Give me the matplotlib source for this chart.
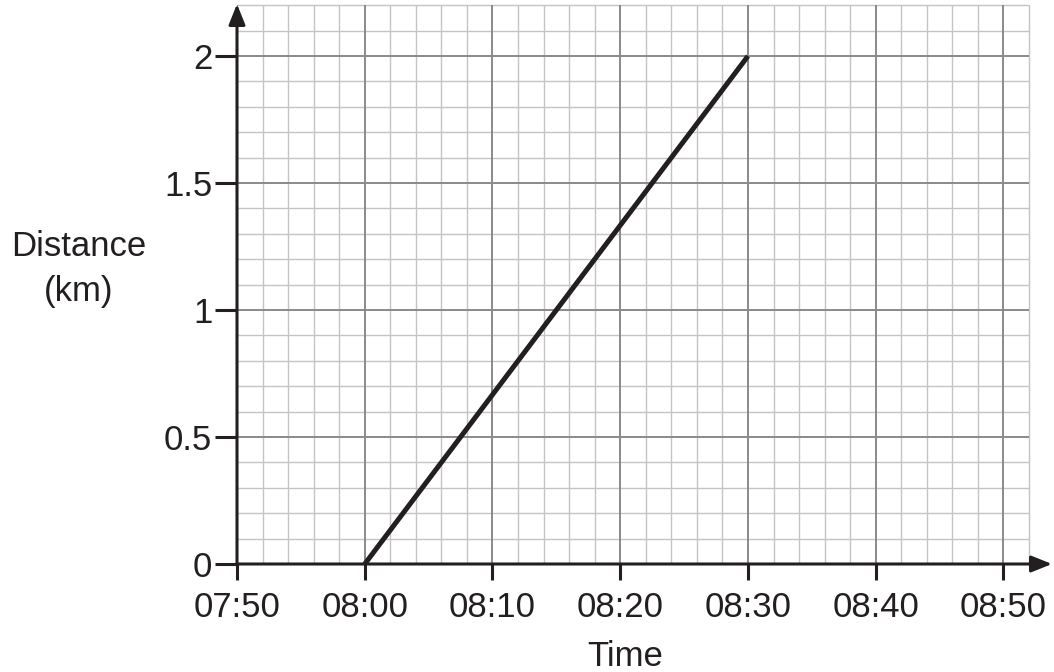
import matplotlib
matplotlib.use("Agg")
import matplotlib.pyplot as plt
import numpy as np

plt.rcParams['font.family'] = ['Liberation Sans', 'DejaVu Sans']

# Data
times = ["08:00", "08:30"]
distance_km = [0, 2]
x_tick_labels = ["07:50", "08:00", "08:10", "08:20", "08:30", "08:40", "08:50"]
y_ticks = [0, 0.5, 1, 1.5, 2]
y_tick_labels = ["0", "0.5", "1", "1.5", "2"]

def to_min(t):
    h, m = t.split(":")
    return (int(h) - 7) * 60 + int(m) - 50

x_vals = [to_min(t) for t in times]
x_ticks = [to_min(t) for t in x_tick_labels]

INK = '#231f20'
MINOR = '#c4c4c7'
MAJOR = '#8a8a8d'
FS = 25

fig = plt.figure(figsize=(10.54, 6.72), dpi=100)
ax = fig.add_axes([237/1054, (672-564)/672, (1052-237)/1054, (564-4)/672])
xmax = 63.8
ymax = 2.205
ax.set_xlim(0, xmax)
ax.set_ylim(0, ymax)

grid_x_end = 62
grid_y_end = 2.2
for gx in np.arange(0, grid_x_end + 0.01, 2):
    is_major = abs(gx % 10) < 1e-6
    ax.vlines(gx, 0, grid_y_end, color=MAJOR if is_major else MINOR,
              lw=1.4 if is_major else 1.0, zorder=1 if is_major else 0.5)
for gy in np.arange(0, grid_y_end + 0.001, 0.1):
    r = (round(gy * 10)) % 5
    is_major = r == 0
    ax.hlines(gy, 0, grid_x_end, color=MAJOR if is_major else MINOR,
              lw=1.4 if is_major else 1.0, zorder=1 if is_major else 0.5)

for s in ax.spines.values():
    s.set_visible(False)

# Axis arrows
ax.annotate('', xy=(xmax, 0), xytext=(0, 0), xycoords='data',
            arrowprops=dict(arrowstyle='-|>,head_length=0.5,head_width=0.2',
                            mutation_scale=25, color=INK, lw=2.2,
                            shrinkA=0, shrinkB=0), annotation_clip=False, zorder=3)
ax.annotate('', xy=(0, ymax), xytext=(0, 0), xycoords='data',
            arrowprops=dict(arrowstyle='-|>,head_length=0.5,head_width=0.2',
                            mutation_scale=25, color=INK, lw=2.2,
                            shrinkA=0, shrinkB=0), annotation_clip=False, zorder=3)

# Data line
ax.plot(x_vals, distance_km, color=INK, lw=3.6, solid_capstyle='butt', zorder=4)

ax.set_xticks(x_ticks)
ax.set_xticklabels(x_tick_labels)
ax.set_yticks(y_ticks)
ax.set_yticklabels(y_tick_labels)
ax.tick_params(axis='x', length=11.5, width=2.2, color=INK, pad=8,
               labelsize=FS, labelcolor=INK)
ax.tick_params(axis='y', length=15.8, width=2.2, color=INK, pad=2,
               labelsize=FS, labelcolor=INK)

fig.text(79/1054, 1 - 246/672, "Distance", ha='center', va='center',
         fontsize=FS, color=INK)
fig.text(79/1054, 1 - 292/672, "(km)", ha='center', va='center',
         fontsize=FS, color=INK)
fig.text(625/1054, 1 - 657/672, "Time", ha='center', va='center',
         fontsize=FS, color=INK)

fig.savefig("out.png", dpi=100)
